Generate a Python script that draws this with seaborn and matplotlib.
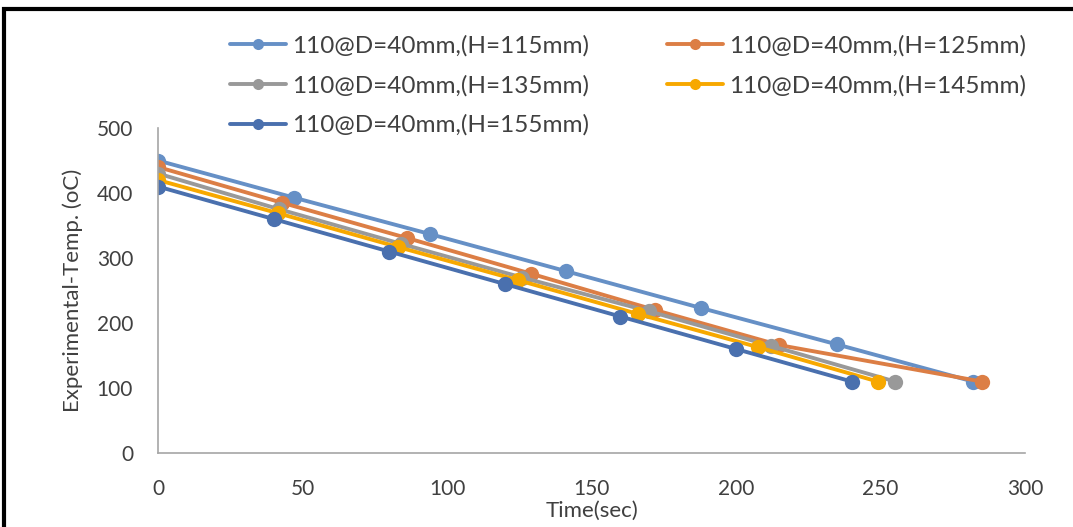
import pandas as pd
import seaborn as sns
import matplotlib.pyplot as plt
from matplotlib.lines import Line2D
from matplotlib.patches import Rectangle

# values
labels = ['110@D=40mm,(H=115mm)', '110@D=40mm,(H=125mm)', '110@D=40mm,(H=135mm)',
          '110@D=40mm,(H=145mm)', '110@D=40mm,(H=155mm)']
time_115 = [0, 47, 94, 141, 188, 235, 282]
temp_115 = [450, 393, 337, 280, 223, 167, 110]
time_125 = [0, 43, 86, 129, 172, 215, 285]
temp_125 = [440, 385, 331, 276, 220, 166, 110]
time_135 = [0, 42, 84, 126, 170, 212, 255]
temp_135 = [430, 375, 322, 270, 218, 165, 110]
time_145 = [0, 41.5, 83, 124.5, 166, 207.5, 249]
temp_145 = [420, 369, 317, 266, 214, 163, 110]
time_155 = [0, 40, 80, 120, 160, 200, 240]
temp_155 = [410, 360, 310, 260, 210, 160, 110]
colors = ['#6690C6', '#DC7E45', '#999999', '#F7A800', '#4A70AE']

series = [(time_115, temp_115), (time_125, temp_125), (time_135, temp_135),
          (time_145, temp_145), (time_155, temp_155)]
frames = []
for lab, (t, v) in zip(labels, series):
    frames.append(pd.DataFrame({'time': t, 'temp': v, 'series': lab}))
df = pd.concat(frames, ignore_index=True)

sns.set_style("white")
plt.rcParams['font.family'] = ['Lato', 'DejaVu Sans']

fig = plt.figure(figsize=(10.73, 5.27), dpi=100)
ax = fig.add_axes([0.1473, 0.1404, 0.808, 0.6166])

for lab, col in zip(labels, colors):
    sub = df[df['series'] == lab]
    sns.lineplot(data=sub, x='time', y='temp', ax=ax, color=col, sort=False,
                 linewidth=2.8, marker='o', markersize=11, markeredgewidth=0,
                 legend=False)

ax.set_xlim(0, 300)
ax.set_ylim(0, 500)
ax.set_xticks(range(0, 301, 50))
ax.set_yticks(range(0, 501, 100))
for s in ['top', 'right']:
    ax.spines[s].set_visible(False)
for s in ['left', 'bottom']:
    ax.spines[s].set_color('#A6A6A6')
    ax.spines[s].set_linewidth(1.2)
ax.tick_params(axis='x', labelsize=15, colors='#404040', pad=19, length=0)
ax.tick_params(axis='y', labelsize=15, colors='#404040', pad=18, length=0)
ax.set_xlabel('Time(sec)', fontsize=16, color='#404040', labelpad=1)
ax.set_ylabel('Experimental-Temp. (oC)', fontsize=16, color='#404040', labelpad=10)

handles = [Line2D([0], [0], color=c, linewidth=2.8, marker='o', markersize=8,
                  markeredgewidth=0) for c in colors]
# matplotlib fills legend columns first, so reorder to read row by row
order = [0, 2, 4, 1, 3]
fig.legend([handles[i] for i in order], [labels[i] for i in order],
           loc='upper left', bbox_to_anchor=(0.194, 0.975),
           ncol=2, frameon=False, fontsize=17.5, handlelength=2.3,
           columnspacing=3.2, labelspacing=0.75, handletextpad=0.25,
           labelcolor='#404040')

fig.patches.append(Rectangle((0.004, -0.05), 1.2, 1.032, transform=fig.transFigure,
                             fill=False, edgecolor='black', linewidth=3))

fig.savefig('out.png', dpi=100)
